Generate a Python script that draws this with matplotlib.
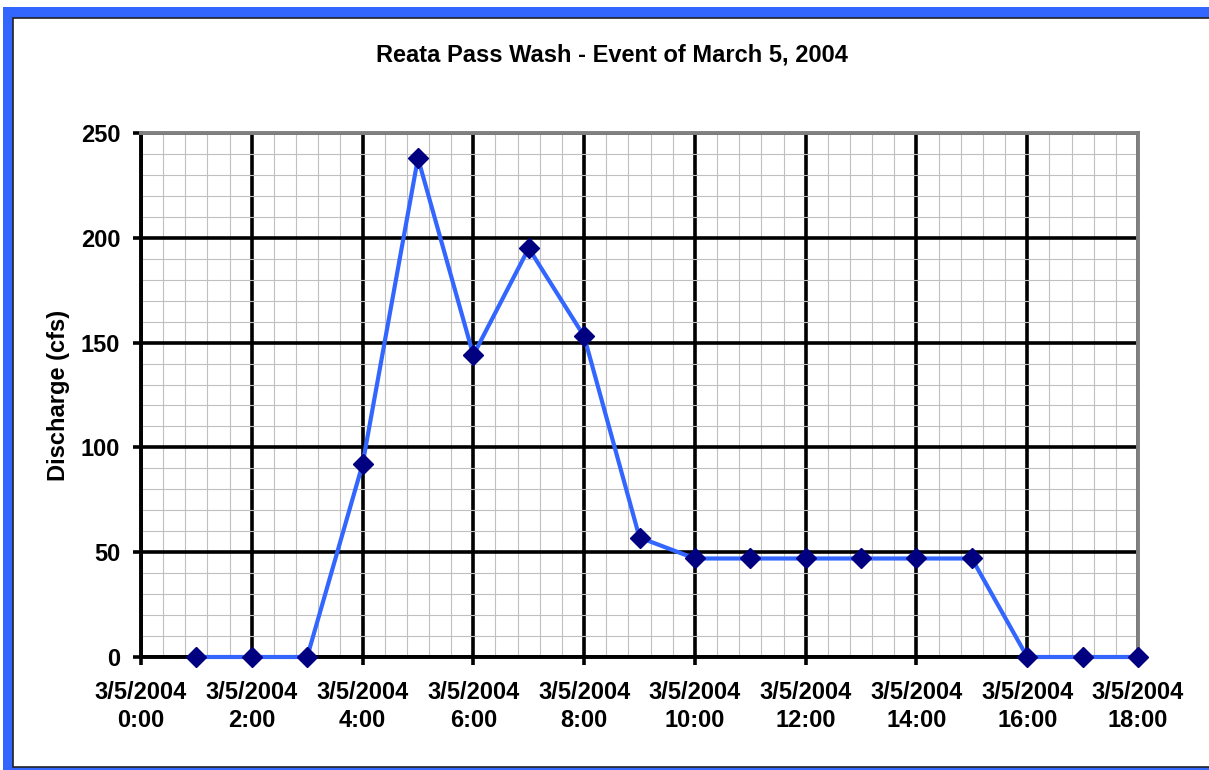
import numpy as np
import matplotlib
matplotlib.use("Agg")
import matplotlib.pyplot as plt
from matplotlib.patches import Rectangle
from matplotlib.ticker import MultipleLocator

plt.rcParams["font.family"] = ["Liberation Sans", "DejaVu Sans"]
plt.rcParams["font.weight"] = "bold"

# hours after 3/5/2004 0:00
horas = [1, 2, 3, 4, 5, 6, 7, 8, 9, 10, 11, 12, 13, 14, 15, 16, 17, 18]
vazao = [0, 0, 0, 92, 238, 144, 195, 153, 57, 47, 47, 47, 47, 47, 47, 0, 0, 0]
ticks_x = [0, 2, 4, 6, 8, 10, 12, 14, 16, 18]
rotulos_x = ["3/5/2004\n%d:00" % h for h in ticks_x]
ticks_y = [0, 50, 100, 150, 200, 250]

W, H = 1209, 770
fig = plt.figure(figsize=(W / 100, H / 100), dpi=100)
fig.patch.set_facecolor("white")

# moldura azul do grafico
fig.patches.append(Rectangle((3 / W, 0), 1, 1 - 7 / H, transform=fig.transFigure,
                             facecolor="#3366FF", edgecolor="none", zorder=-2))
fig.patches.append(Rectangle((13 / W, 3 / H), 1, 1 - 21 / H, transform=fig.transFigure,
                             facecolor="white", edgecolor="#222222", linewidth=1.2, zorder=-1))

ax = fig.add_axes([141 / W, 1 - 657 / H, (1138 - 141) / W, (657 - 133) / H])
ax.set_facecolor("none")

ax.plot(horas, vazao, color="#3366FF", linewidth=3, marker="D", markersize=10,
        markerfacecolor="#000080", markeredgecolor="#000080", clip_on=False, zorder=5)

ax.set_xlim(0, 18)
ax.set_ylim(0, 250)
ax.set_xticks(ticks_x)
ax.set_xticklabels(rotulos_x, fontsize=17, fontweight="bold", linespacing=1.3)
ax.set_yticks(ticks_y)
ax.set_yticklabels([str(v) for v in ticks_y], fontsize=17, fontweight="bold")
ax.xaxis.set_minor_locator(MultipleLocator(0.4))
ax.yaxis.set_minor_locator(MultipleLocator(10))

ax.grid(which="minor", color="#c0c0c0", linewidth=0.8)
ax.grid(which="major", color="black", linewidth=2.6)
ax.set_axisbelow(True)
ax.tick_params(axis="x", which="major", pad=11)
ax.tick_params(axis="y", which="major", pad=9)
ax.tick_params(which="major", length=6, width=2.6, direction="out", colors="black")
ax.tick_params(which="minor", length=0)

for lado in ["left", "bottom"]:
    ax.spines[lado].set_color("black")
    ax.spines[lado].set_linewidth(2.8)
for lado in ["top", "right"]:
    ax.spines[lado].set_color("#808080")
    ax.spines[lado].set_linewidth(2.8)

ax.set_ylabel("Discharge (cfs)", fontsize=17, fontweight="bold", labelpad=7.5)

fig.text(612 / W, 1 - 55 / H, "Reata Pass Wash - Event of March 5, 2004",
         ha="center", va="center", fontsize=17, fontweight="bold")

fig.savefig("out.png", dpi=100, facecolor="white")
